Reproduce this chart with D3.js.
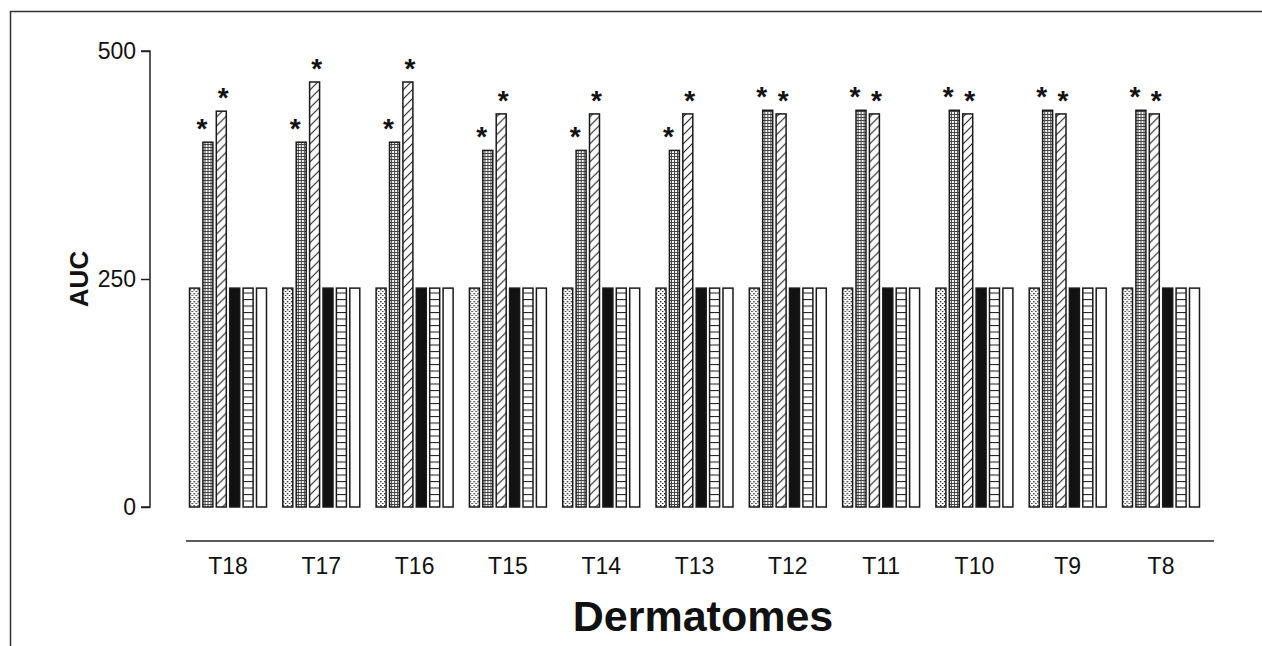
<!DOCTYPE html>
<html>
<head>
<meta charset="utf-8">
<script src="https://cdn.jsdelivr.net/npm/d3@7"></script>
<style>
  body { margin: 0; background: #fff; }
  svg { display: block; font-family: Arial, "Liberation Sans", sans-serif; }
</style>
</head>
<body>
<svg id="chart" width="1262" height="646"></svg>
<script>
// data
const dermatomes = ["T18", "T17", "T16", "T15", "T14", "T13", "T12", "T11", "T10", "T9", "T8"];
const seriesKeys = ["s1", "s2", "s3", "s4", "s5", "s6"];
const s1 = [240, 240, 240, 240, 240, 240, 240, 240, 240, 240, 240];
const s2 = [400, 400, 400, 391, 391, 391, 435, 435, 435, 435, 435];
const s3 = [434, 466, 466, 431, 431, 431, 431, 431, 431, 431, 431];
const s4 = [240, 240, 240, 240, 240, 240, 240, 240, 240, 240, 240];
const s5 = [240, 240, 240, 240, 240, 240, 240, 240, 240, 240, 240];
const s6 = [240, 240, 240, 240, 240, 240, 240, 240, 240, 240, 240];
const starred = ["s2", "s3"];
const yTicks = [0, 250, 500];

const svg = d3.select("#chart");
const margin = {top: 51, bottom: 507, left: 150};

// frame
svg.append("path").attr("d", "M10.5,646 V11.5 H1262")
    .attr("fill", "none").attr("stroke", "#333").attr("stroke-width", 1.5);

// patterns
const defs = svg.append("defs");
let p = defs.append("pattern").attr("id", "pDots").attr("patternUnits", "userSpaceOnUse")
    .attr("width", 4).attr("height", 4);
p.append("rect").attr("width", 4).attr("height", 4).attr("fill", "#fff");
p.append("rect").attr("x", 0).attr("y", 1).attr("width", 1.4).attr("height", 1.4).attr("fill", "#222");
p.append("rect").attr("x", 2).attr("y", 3).attr("width", 1.4).attr("height", 1.4).attr("fill", "#222");

p = defs.append("pattern").attr("id", "pGrid").attr("patternUnits", "userSpaceOnUse")
    .attr("width", 3).attr("height", 3);
p.append("rect").attr("width", 3).attr("height", 3).attr("fill", "#fff");
p.append("path").attr("d", "M0,0.5 H3 M0.5,0 V3").attr("stroke", "#444").attr("stroke-width", 1.1);

p = defs.append("pattern").attr("id", "pHatch").attr("patternUnits", "userSpaceOnUse")
    .attr("width", 9).attr("height", 9);
p.append("rect").attr("width", 9).attr("height", 9).attr("fill", "#fff");
p.append("path").attr("d", "M0,9 L9,0 M-2,2 L2,-2 M7,11 L11,7").attr("stroke", "#222").attr("stroke-width", 1.1);

p = defs.append("pattern").attr("id", "pHoriz").attr("patternUnits", "userSpaceOnUse")
    .attr("width", 10).attr("height", 6.5);
p.append("rect").attr("width", 10).attr("height", 6.5).attr("fill", "#fff");
p.append("path").attr("d", "M0,0.5 H10").attr("stroke", "#222").attr("stroke-width", 1.1);

const fills = {s1: "url(#pDots)", s2: "url(#pGrid)", s3: "url(#pHatch)", s4: "#111", s5: "url(#pHoriz)", s6: "#fff"};
const starShift = {s2: -6, s3: 2};
const values = {s1, s2, s3, s4, s5, s6};

// scales
const x0 = d3.scaleBand().domain(dermatomes).range([181.35, 1207.65])
    .paddingInner(0.175).paddingOuter(0.0875);
const x1 = d3.scaleBand().domain(seriesKeys).range([0, x0.bandwidth()]).paddingInner(0.254);
const y = d3.scaleLinear().domain([0, 500]).range([margin.bottom, margin.top]);

// y axis
const yAxis = svg.append("g").attr("transform", `translate(${margin.left},0)`)
    .call(d3.axisLeft(y).tickValues(yTicks).tickSize(9).tickPadding(5).tickFormat(d3.format("d")));
yAxis.select(".domain").attr("stroke", "#222").attr("stroke-width", 1.5).attr("d", `M-9,${y(500)}H0V${y(0)}H-9`);
yAxis.selectAll(".tick line").attr("stroke", "#222").attr("stroke-width", 1.5);
yAxis.selectAll(".tick text").attr("font-size", 23).attr("fill", "#111")
    .attr("font-family", "Arial, 'Liberation Sans', sans-serif");

svg.append("text").attr("transform", `translate(88,${y(250)}) rotate(-90)`)
    .attr("text-anchor", "middle").attr("font-size", 26).attr("font-weight", "bold").attr("fill", "#111")
    .text("AUC");

// bars
const rows = dermatomes.map((d, i) => ({key: d, bars: seriesKeys.map(k => ({key: k, value: values[k][i], group: d}))}));

const g = svg.append("g").selectAll("g").data(rows).join("g")
    .attr("transform", d => `translate(${x0(d.key)},0)`);

g.selectAll("rect").data(d => d.bars).join("rect")
    .attr("x", d => x1(d.key))
    .attr("y", d => y(d.value))
    .attr("width", x1.bandwidth())
    .attr("height", d => y(0) - y(d.value))
    .attr("fill", d => fills[d.key])
    .attr("stroke", "#1a1a1a").attr("stroke-width", 1.5);

g.selectAll("text.star").data(d => d.bars.filter(b => starred.includes(b.key))).join("text")
    .attr("class", "star")
    .attr("x", d => x1(d.key) + x1.bandwidth() / 2 + starShift[d.key])
    .attr("y", d => y(d.value) - 4)
    .attr("text-anchor", "middle").attr("font-size", 28).attr("font-weight", "bold").attr("fill", "#111")
    .text("*");

// x axis
const xAxis = svg.append("g").attr("transform", "translate(0,541)")
    .call(d3.axisBottom(x0).tickSize(0).tickPadding(17));
xAxis.select(".domain").attr("stroke", "#222").attr("stroke-width", 1.5).attr("d", "M186,0H1214");
xAxis.selectAll(".tick text").attr("font-size", 23).attr("fill", "#111")
    .attr("font-family", "Arial, 'Liberation Sans', sans-serif");

svg.append("text").attr("x", 703).attr("y", 631)
    .attr("text-anchor", "middle").attr("font-size", 43).attr("font-weight", "bold").attr("fill", "#111")
    .text("Dermatomes");
</script>
</body>
</html>
